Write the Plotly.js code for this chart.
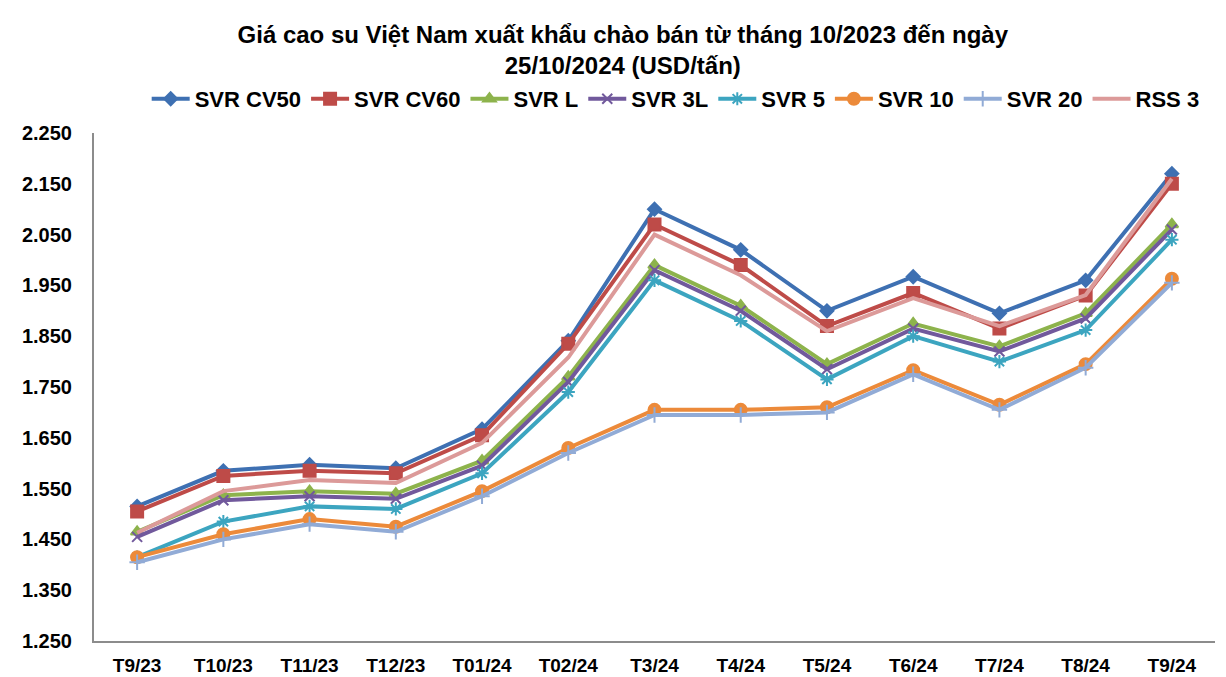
<!DOCTYPE html>
<html>
<head>
<meta charset="utf-8">
<script src="https://cdn.plot.ly/plotly-3.0.1.min.js"></script>
<style>html,body{margin:0;padding:0;background:#fff;}#chart{width:1226px;height:677px;}</style>
</head>
<body>
<div id="chart"></div>
<script>
const categories = ["T9/23","T10/23","T11/23","T12/23","T01/24","T02/24","T3/24","T4/24","T5/24","T6/24","T7/24","T8/24","T9/24"];

const svrCV50 = [1515,1585,1597,1590,1667,1841,2100,2020,1900,1967,1895,1960,2170];
const svrCV60 = [1505,1575,1585,1580,1655,1835,2070,1990,1870,1935,1865,1930,2150];
const svrL    = [1465,1537,1545,1540,1605,1770,1990,1910,1795,1875,1830,1895,2070];
const svr3L   = [1455,1527,1535,1530,1595,1760,1980,1900,1785,1865,1820,1885,2060];
const svr5    = [1415,1485,1515,1510,1580,1740,1960,1880,1765,1850,1800,1862,2040];
const svr10   = [1415,1460,1490,1475,1545,1630,1705,1705,1710,1783,1715,1795,1963];
const svr20   = [1405,1450,1480,1465,1535,1620,1695,1695,1700,1775,1705,1788,1955];
const rss3    = [1463,1545,1567,1561,1640,1808,2050,1970,1860,1925,1870,1931,2160];

const seriesNames = ["SVR CV50","SVR CV60","SVR L","SVR 3L","SVR 5","SVR 10","SVR 20","RSS 3"];
const seriesData = [svrCV50, svrCV60, svrL, svr3L, svr5, svr10, svr20, rss3];
const colors = ["#3E70B2","#BE4B48","#8DB34C","#71599C","#3CA5C0","#EC8A3A","#91ABD6","#DC9A99"];
const symbols = ["diamond","square","triangle-up","x-thin-open","asterisk-open","circle","cross-thin-open","circle"];
const sizes = [10,12,11,10,11,12,11,0];

const traces = seriesNames.map((name, i) => ({
  type: "scatter",
  mode: sizes[i] > 0 ? "lines+markers" : "lines",
  name: name,
  x: categories,
  y: seriesData[i],
  line: {color: colors[i], width: 4},
  marker: {symbol: symbols[i], size: sizes[i], color: colors[i], line: {color: colors[i], width: 2}}
}));

const FONT = "Liberation Sans, Arial, sans-serif";

const layout = {
  width: 1226, height: 677,
  paper_bgcolor: "#fff", plot_bgcolor: "#fff",
  separators: ",.",
  margin: {l: 94, r: 11, t: 133, b: 36},
  title: {
    text: "Giá cao su Việt Nam xuất khẩu chào bán từ tháng 10/2023 đến ngày<br>25/10/2024 (USD/tấn)",
    font: {family: FONT, size: 24, color: "#000", weight: "bold"},
    x: 0.508, xanchor: "center", xref: "container", yref: "container", y: 0.937, yanchor: "middle"
  },
  showlegend: true,
  legend: {
    orientation: "h", x: 0.047, xanchor: "left", y: 1.067, yanchor: "middle",
    font: {family: FONT, size: 22, color: "#000", weight: "bold"},
    itemwidth: 38, tracegroupgap: 0, traceorder: "normal"
  },
  xaxis: {
    type: "category", range: [-0.5, 12.5],
    showline: true, linecolor: "#8c8c8c", linewidth: 2,
    showgrid: false, zeroline: false, ticks: "",
    tickfont: {family: FONT, size: 19, color: "#000", weight: "bold"},
    ticklabelstandoff: 6
  },
  yaxis: {
    range: [1250, 2250], dtick: 100, tick0: 1250,
    tickformat: ",d",
    showline: true, linecolor: "#8c8c8c", linewidth: 2,
    showgrid: false, zeroline: false, ticks: "",
    tickfont: {family: FONT, size: 20, color: "#000", weight: "bold"},
    ticklabelstandoff: 16
  }
};

Plotly.newPlot("chart", traces, layout, {displayModeBar: false});
</script>
</body>
</html>
